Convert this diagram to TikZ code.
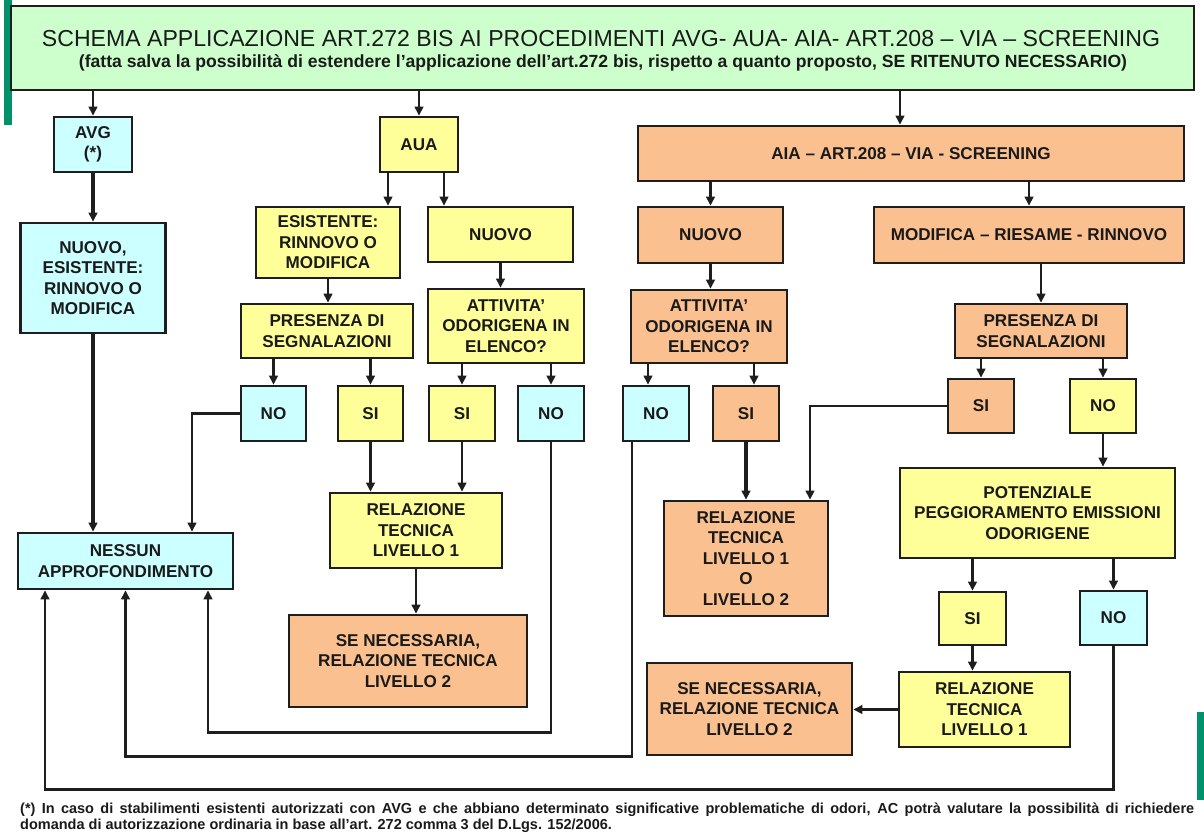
\documentclass[tikz,border=0pt]{standalone}
\usepackage{fontspec}
\setmainfont{Liberation Sans}
\usetikzlibrary{arrows.meta}
\definecolor{cyanbox}{HTML}{CCFFFF}
\definecolor{yelbox}{HTML}{FFFF99}
\definecolor{orabox}{HTML}{FAC090}
\definecolor{grnbox}{HTML}{CCFFCC}
\definecolor{stripgr}{HTML}{00936B}
\definecolor{edge}{HTML}{1E1E1E}
\definecolor{txt}{HTML}{1A1A1A}
\newcommand\bxfont{\fontsize{17.1}{20.5}\selectfont\bfseries}
\newcommand\fnfont{\fontsize{14.5}{16}\selectfont\bfseries}
\begin{document}
\begin{tikzpicture}[x=1pt,y=-1pt,
  box/.style={draw=edge, line width=2.6pt, text=txt, font=\bxfont, align=center, inner sep=0pt},
  cy/.style={fill=cyanbox}, ye/.style={fill=yelbox}, ora/.style={fill=orabox}, gr/.style={fill=grnbox},
  arr/.style={draw=edge, line width=2.6pt, -{Triangle[length=9pt,width=8.5pt]}},
  tarr/.style={arr, line width=3.5pt}]
\useasboundingbox (0,0) rectangle (1204,835);
\fill[white] (0,0) rectangle (1204,835);
\fill[stripgr] (4,0) rectangle (12,125);
\fill[stripgr] (1197,712) rectangle (1204,800);

% title
\node[box,gr,minimum width=1183,minimum height=84] (title) at (602.5,48) {};
\node[font=\fontsize{23.1}{27}\selectfont, text=txt, inner sep=0] (ttl) at (601,38.5) {SCHEMA APPLICAZIONE ART.272 BIS AI PROCEDIMENTI AVG- AUA- AIA- ART.208 – VIA – SCREENING};
\node[font=\bfseries\fontsize{17.6}{20}\selectfont, text=txt, inner sep=0] (sub) at (603,63) {(fatta salva la possibilità di estendere l’applicazione dell’art.272 bis, rispetto a quanto proposto, SE RITENUTO NECESSARIO)};

% AVG column
\node[box,cy,minimum width=78,minimum height=55] (avg) at (93,144.5) {AVG\\(*)};
\node[box,cy,minimum width=145,minimum height=110] (nes) at (93,278) {NUOVO,\\ESISTENTE:\\RINNOVO O\\MODIFICA};
\node[box,cy,minimum width=215,minimum height=56] (nessun) at (125.5,561) {NESSUN\\APPROFONDIMENTO};

% AUA column
\node[box,ye,minimum width=78,minimum height=55] (aua) at (419,144.5) {AUA};
\node[box,ye,minimum width=144,minimum height=71] (esi) at (328,242.5) {ESISTENTE:\\RINNOVO O\\MODIFICA};
\node[box,ye,minimum width=145,minimum height=55] (nuoA) at (500.5,234.5) {NUOVO};
\node[box,ye,minimum width=172,minimum height=54] (preA) at (327,331) {PRESENZA DI\\SEGNALAZIONI};
\node[box,ye,minimum width=156,minimum height=74] (attA) at (506,326) {ATTIVITA’\\ODORIGENA IN\\ELENCO?};
\node[box,cy,minimum width=65,minimum height=55] (noA1) at (273.5,413.5) {NO};
\node[box,ye,minimum width=65,minimum height=55] (siA1) at (370.5,413.5) {SI};
\node[box,ye,minimum width=66,minimum height=55] (siA2) at (462,413.5) {SI};
\node[box,cy,minimum width=66,minimum height=55] (noA2) at (551,413.5) {NO};
\node[box,ye,minimum width=172,minimum height=75] (rel1A) at (416,530.5) {RELAZIONE\\TECNICA\\LIVELLO 1};
\node[box,ora,minimum width=238,minimum height=92] (senA) at (408,661) {SE NECESSARIA,\\RELAZIONE TECNICA\\LIVELLO 2};

% AIA column
\node[box,ora,minimum width=546,minimum height=55] (aia) at (911,153.5) {AIA – ART.208 – VIA - SCREENING};
\node[box,ora,minimum width=145,minimum height=56] (nuoB) at (710.5,235) {NUOVO};
\node[box,ora,minimum width=310,minimum height=56] (mod) at (1029,235) {MODIFICA – RIESAME - RINNOVO};
\node[box,ora,minimum width=156,minimum height=73] (attB) at (709,326.5) {ATTIVITA’\\ODORIGENA IN\\ELENCO?};
\node[box,ora,minimum width=172,minimum height=54] (preB) at (1041,331) {PRESENZA DI\\SEGNALAZIONI};
\node[box,cy,minimum width=66,minimum height=55] (noB1) at (656,413.5) {NO};
\node[box,ora,minimum width=66,minimum height=55] (siB1) at (746,413.5) {SI};
\node[box,ora,minimum width=66,minimum height=54] (siB2) at (981,406) {SI};
\node[box,ye,minimum width=66,minimum height=54] (noB2) at (1103,406) {NO};
\node[box,ora,minimum width=164,minimum height=115] (relB) at (746,558.5) {RELAZIONE\\TECNICA\\LIVELLO 1\\O\\LIVELLO 2};
\node[box,ye,minimum width=275,minimum height=90] (pot) at (1037.5,513) {POTENZIALE\\PEGGIORAMENTO EMISSIONI\\ODORIGENE};
\node[box,ye,minimum width=67,minimum height=53] (siB3) at (972.5,618.5) {SI};
\node[box,cy,minimum width=67,minimum height=54] (noB3) at (1113.5,618) {NO};
\node[box,ye,minimum width=171,minimum height=75] (rel1B) at (984.5,709.5) {RELAZIONE\\TECNICA\\LIVELLO 1};
\node[box,ora,minimum width=205,minimum height=92] (senB) at (749.5,709) {SE NECESSARIA,\\RELAZIONE TECNICA\\LIVELLO 2};

% helper coordinates
\coordinate (aiaIn) at ([xshift=-11pt]aia.north);
\coordinate (a1) at ([xshift=-31pt]aua.south);
\coordinate (a2) at ([xshift=25pt]aua.south);
\coordinate (nessunR) at ([xshift=66.5pt]nessun.north);
\coordinate (n3) at ([xshift=82.5pt]nessun.south);
\coordinate (n1) at ([xshift=-80.5pt]nessun.south);
\coordinate (b1) at ([xshift=-24pt]noB1.south);
\coordinate (b0) at ([xshift=-8pt]noB1.north);
\coordinate (b2) at ([xshift=8pt]siB1.north);
\coordinate (b3) at ([xshift=64pt]relB.north);

% connectors
\draw[arr] (title.south -| avg) -- (avg.north);
\draw[arr] (title.south -| aua) -- (aua.north);
\draw[arr] (title.south -| aiaIn) -- (aiaIn);
\draw[tarr] (avg.south) -- (nes.north -| avg);
\draw[tarr] (nes.south) -- (nessun.north -| nes);
\draw[arr] (a1) -- (a1 |- esi.north);
\draw[arr] (a2) -- (a2 |- nuoA.north);
\draw[arr] (esi.south) -- (esi.south |- preA.north);
\draw[arr] (nuoA.south) -- (nuoA.south |- attA.north);
\draw[arr] (preA.south -| noA1) -- (noA1.north);
\draw[arr] (preA.south -| siA1) -- (siA1.north);
\draw[arr] (attA.south -| siA2) -- (siA2.north);
\draw[arr] (attA.south -| noA2) -- (noA2.north);
\draw[arr] (siA1.south) -- (siA1.south |- rel1A.north);
\draw[arr] (siA2.south) -- (siA2.south |- rel1A.north);
\draw[arr] (rel1A.south) -- (rel1A.south |- senA.north);
\draw[arr] (noA1.west) -| (nessunR);
\draw[arr] (noA2.south) -- ++(0,290) -| (n3);
\draw[arr] (b1) -- ++(0,314) -| (nessun.south);
\draw[arr] (noB3.south) -- ++(0,143) -| (n1);

\draw[arr] (aia.south -| nuoB) -- (nuoB.north);
\draw[arr] (aia.south -| mod) -- (mod.north);
\draw[arr] (nuoB.south) -- (nuoB.south |- attB.north);
\draw[arr] (mod.south -| preB) -- (preB.north);
\draw[arr] (attB.south -| b0) -- (b0);
\draw[arr] (attB.south -| b2) -- (b2);
\draw[tarr] (siB1.south) -- (relB.north);
\draw[arr] (preB.south -| siB2) -- (siB2.north);
\draw[arr] (preB.south -| noB2) -- (noB2.north);
\draw[arr] (siB2.west) -| (b3);
\draw[arr] (noB2.south) -- (noB2.south |- pot.north);
\draw[arr] (pot.south -| siB3) -- (siB3.north);
\draw[arr] (pot.south -| noB3) -- (noB3.north);
\draw[arr] (siB3.south) -- (siB3.south |- rel1B.north);
\draw[tarr] (rel1B.west) -- (rel1B.west -| senB.east);

% footnote
\node[anchor=base west, font=\fnfont, text=txt, inner sep=0] (fn1) at (20,813) {\makebox[1174pt][s]{(*) In caso di stabilimenti esistenti autorizzati con AVG e che abbiano determinato significative problematiche di odori, AC potrà valutare la possibilità di richiedere}};
\node[anchor=base west, font=\fnfont, text=txt, inner sep=0] (fn2) at (20,829) {domanda di autorizzazione ordinaria in base all'art. 272 comma 3 del D.Lgs. 152/2006.};
\end{tikzpicture}
\end{document}
